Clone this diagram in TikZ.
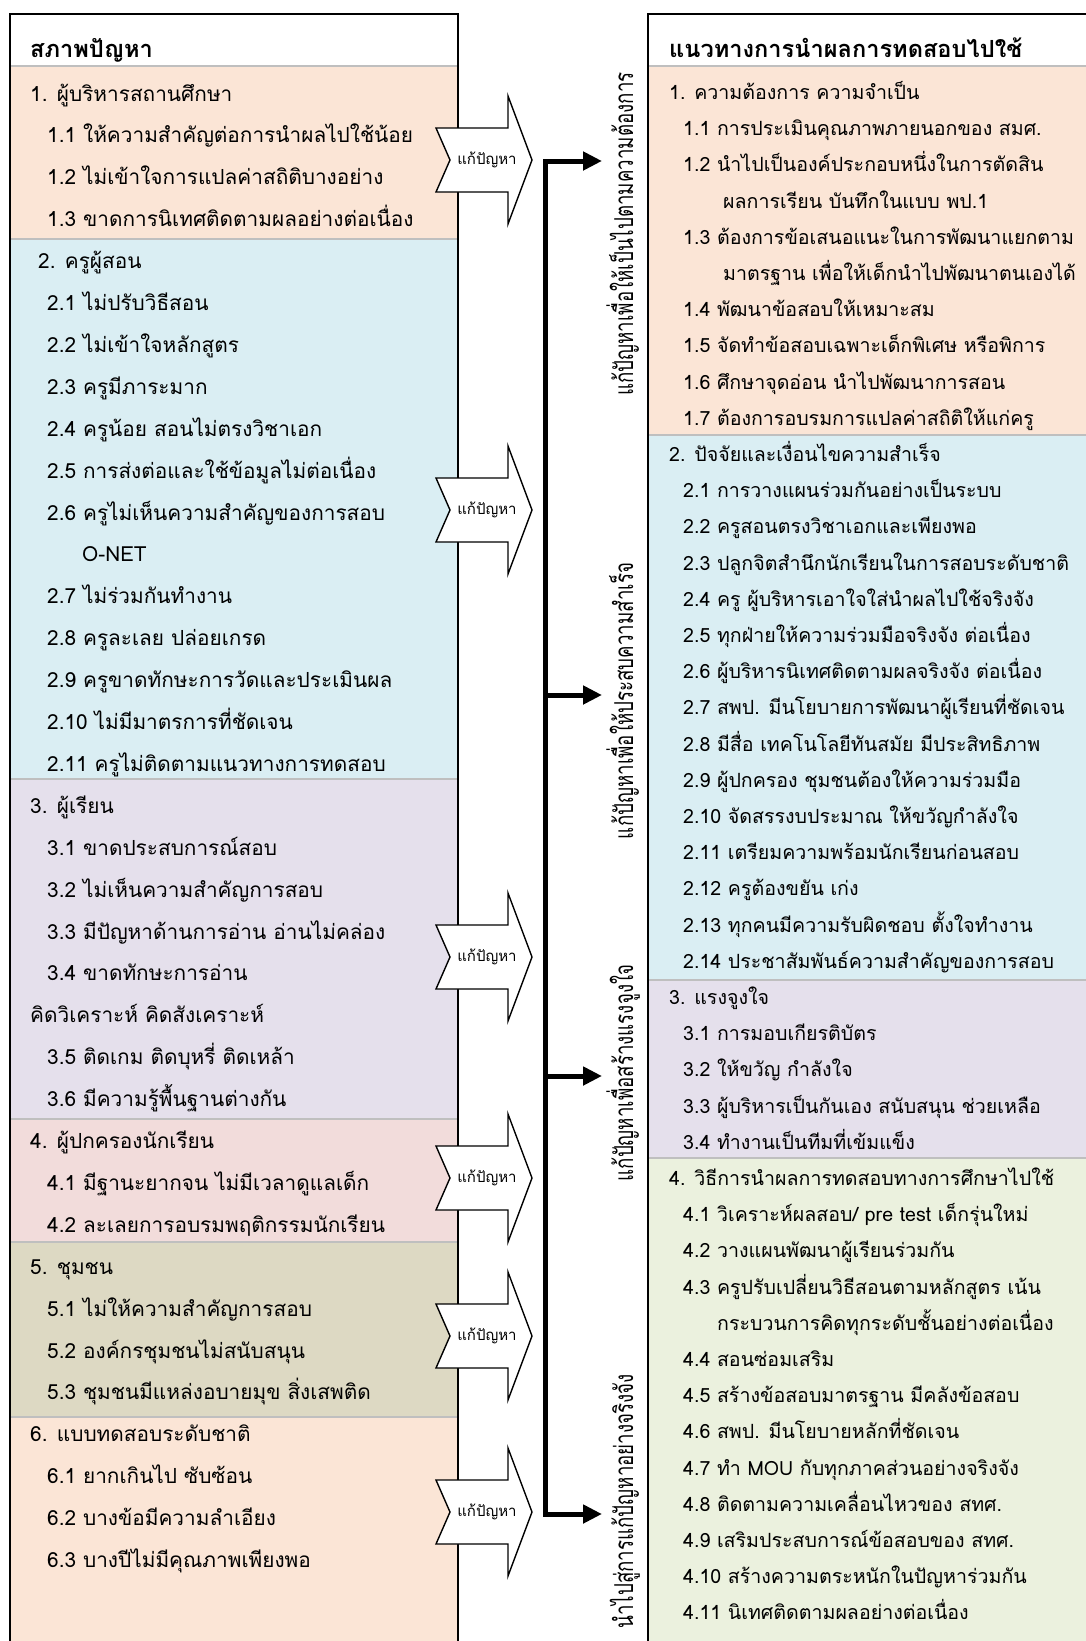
\documentclass[tikz,border=0pt]{standalone}
\usepackage{fontspec}
\setmainfont{Loma}[Script=Thai]
\newfontfamily\thaicond{Loma}[Script=Thai,FakeStretch=0.72]
\usepackage{tikz}
\usetikzlibrary{arrows.meta}

\definecolor{peach}{RGB}{251,229,214}
\definecolor{aqua}{RGB}{218,238,243}
\definecolor{lilac}{RGB}{229,224,236}
\definecolor{rose}{RGB}{242,220,219}
\definecolor{khaki}{RGB}{221,217,195}
\definecolor{sage}{RGB}{235,241,222}
\definecolor{sepgray}{RGB}{191,191,191}

\tikzset{
  probtxt/.style={anchor=base west, inner sep=0pt, font=\fontsize{20.8}{24}\selectfont},
  soltxt/.style={anchor=base west, inner sep=0pt, font=\fontsize{19.6}{23}\selectfont},
  colhead/.style={anchor=base west, inner sep=0pt, font=\fontsize{23.6}{28}\selectfont\bfseries},
  fixlabel/.style={inner sep=0pt, font=\fontsize{15}{18}\selectfont},
  goaltxt/.style={rotate=90, inner sep=0pt, font=\thaicond\fontsize{26}{30}\selectfont},
  fixshape/.style={draw=black, fill=white, line width=1.4, line join=miter},
  boxline/.style={line width=1.8},
  sepline/.style={draw=sepgray, line width=2},
  spine/.style={line width=5},
}

\begin{document}
\begin{tikzpicture}[x=1pt,y=1pt,yscale=-1,xscale=1]
    \useasboundingbox (0,0) rectangle (1086,1641);
    \clip (0,0) rectangle (1086,1641);

    %Left panel: section fills
    \fill[white] (10,14) rectangle (458,66);
    \fill[peach] (10,66) rectangle (458,239);
    \fill[aqua] (10,239) rectangle (458,779);
    \fill[lilac] (10,779) rectangle (458,1119);
    \fill[rose] (10,1119) rectangle (458,1242);
    \fill[khaki] (10,1242) rectangle (458,1417);
    \fill[peach] (10,1417) rectangle (458,1660);
    \foreach \y in {66,239,779,1119,1242,1417}
        \draw[sepline] (11,\y) -- (457,\y);
    \draw[boxline] (10,1660) -- (10,14) -- (458,14) -- (458,1660);

    %Right panel: section fills
    \fill[white] (648,14) rectangle (1100,66);
    \fill[peach] (648,66) rectangle (1100,435);
    \fill[aqua] (648,435) rectangle (1100,980);
    \fill[lilac] (648,980) rectangle (1100,1158);
    \fill[sage] (648,1158) rectangle (1100,1660);
    \foreach \y in {66,435,980,1158}
        \draw[sepline] (649,\y) -- (1100,\y);
    \draw[boxline] (648,1660) -- (648,14) -- (1100,14);

    % Text Node: left headings
    \node[colhead] (probhead) at (30,57) {สภาพปัญหา};
    \node[probtxt] (prob0) at (30,101) {1. ผู้บริหารสถานศึกษา};
    \node[probtxt] (prob4) at (38,{101+41.9*4}) {2. ครูผู้สอน};
    \node[probtxt] (prob11) at (82,{101+41.9*11}) {O-NET};
    \node[probtxt] (prob17) at (30,{101+41.9*17}) {3. ผู้เรียน};
    \node[probtxt] (prob22) at (30,{101+41.9*22}) {คิดวิเคราะห์ คิดสังเคราะห์};
    \node[probtxt] (prob25) at (30,{101+41.9*25}) {4. ผู้ปกครองนักเรียน};
    \node[probtxt] (prob28) at (30,{101+41.9*28}) {5. ชุมชน};
    \node[probtxt] (prob32) at (30,{101+41.9*32}) {6. แบบทดสอบระดับชาติ};
    % Text Node: left items
    \foreach \n/\txt in {1/1.1 ให้ความสำคัญต่อการนำผลไปใช้น้อย, 2/1.2 ไม่เข้าใจการแปลค่าสถิติบางอย่าง,
        3/1.3 ขาดการนิเทศติดตามผลอย่างต่อเนื่อง, 5/2.1 ไม่ปรับวิธีสอน, 6/2.2 ไม่เข้าใจหลักสูตร,
        7/2.3 ครูมีภาระมาก, 8/2.4 ครูน้อย สอนไม่ตรงวิชาเอก, 9/2.5 การส่งต่อและใช้ข้อมูลไม่ต่อเนื่อง,
        10/2.6 ครูไม่เห็นความสำคัญของการสอบ, 12/2.7 ไม่ร่วมกันทำงาน, 13/2.8 ครูละเลย ปล่อยเกรด,
        14/2.9 ครูขาดทักษะการวัดและประเมินผล, 15/2.10 ไม่มีมาตรการที่ชัดเจน,
        16/2.11 ครูไม่ติดตามแนวทางการทดสอบ, 18/3.1 ขาดประสบการณ์สอบ, 19/3.2 ไม่เห็นความสำคัญการสอบ,
        20/3.3 มีปัญหาด้านการอ่าน อ่านไม่คล่อง, 21/3.4 ขาดทักษะการอ่าน, 23/3.5 ติดเกม ติดบุหรี่ ติดเหล้า,
        24/3.6 มีความรู้พื้นฐานต่างกัน, 26/4.1 มีฐานะยากจน ไม่มีเวลาดูแลเด็ก,
        27/4.2 ละเลยการอบรมพฤติกรรมนักเรียน, 29/5.1 ไม่ให้ความสำคัญการสอบ,
        30/5.2 องค์กรชุมชนไม่สนับสนุน, 31/5.3 ชุมชนมีแหล่งอบายมุข สิ่งเสพติด,
        33/6.1 ยากเกินไป ซับซ้อน, 34/6.2 บางข้อมีความลำเอียง, 35/6.3 บางปีไม่มีคุณภาพเพียงพอ}
        \node[probtxt] (prob\n) at (47,{101+41.9*\n}) {\txt};

    % Text Node: right headings
    \node[colhead] (solhead) at (669,57) {แนวทางการนำผลการทดสอบไปใช้};
    \node[soltxt] (sol0) at (669,99.5) {1. ความต้องการ ความจำเป็น};
    \node[soltxt] (sol3) at (723,{99.5+36.2*3}) {ผลการเรียน บันทึกในแบบ พป.1};
    \node[soltxt] (sol5) at (723,{99.5+36.2*5}) {มาตรฐาน เพื่อให้เด็กนำไปพัฒนาตนเองได้};
    \node[soltxt] (sol10) at (669,{99.5+36.2*10}) {2. ปัจจัยและเงื่อนไขความสำเร็จ};
    \node[soltxt] (sol25) at (669,{99.5+36.2*25}) {3. แรงจูงใจ};
    \node[soltxt] (sol30) at (669,{99.5+36.2*30}) {4. วิธีการนำผลการทดสอบทางการศึกษาไปใช้};
    \node[soltxt] (sol31) at (683,{99.5+36.2*31}) {4.1 วิเคราะห์ผลสอบ/ pre test เด็กรุ่นใหม่};
    \node[soltxt] (sol34) at (717,{99.5+36.2*34}) {กระบวนการคิดทุกระดับชั้นอย่างต่อเนื่อง};
    % Text Node: right items
    \foreach \n/\txt in {1/1.1 การประเมินคุณภาพภายนอกของ สมศ., 2/1.2 นำไปเป็นองค์ประกอบหนึ่งในการตัดสิน,
        4/1.3 ต้องการข้อเสนอแนะในการพัฒนาแยกตาม, 6/1.4 พัฒนาข้อสอบให้เหมาะสม,
        7/1.5 จัดทำข้อสอบเฉพาะเด็กพิเศษ หรือพิการ, 8/1.6 ศึกษาจุดอ่อน นำไปพัฒนาการสอน,
        9/1.7 ต้องการอบรมการแปลค่าสถิติให้แก่ครู, 11/2.1 การวางแผนร่วมกันอย่างเป็นระบบ,
        12/2.2 ครูสอนตรงวิชาเอกและเพียงพอ, 13/2.3 ปลูกจิตสำนึกนักเรียนในการสอบระดับชาติ,
        14/2.4 ครู ผู้บริหารเอาใจใส่นำผลไปใช้จริงจัง, 15/2.5 ทุกฝ่ายให้ความร่วมมือจริงจัง ต่อเนื่อง,
        16/2.6 ผู้บริหารนิเทศติดตามผลจริงจัง ต่อเนื่อง, 17/2.7 สพป. มีนโยบายการพัฒนาผู้เรียนที่ชัดเจน,
        18/2.8 มีสื่อ เทคโนโลยีทันสมัย มีประสิทธิภาพ, 19/2.9 ผู้ปกครอง ชุมชนต้องให้ความร่วมมือ,
        20/2.10 จัดสรรงบประมาณ ให้ขวัญกำลังใจ, 21/2.11 เตรียมความพร้อมนักเรียนก่อนสอบ,
        22/2.12 ครูต้องขยัน เก่ง, 23/2.13 ทุกคนมีความรับผิดชอบ ตั้งใจทำงาน,
        24/2.14 ประชาสัมพันธ์ความสำคัญของการสอบ, 26/3.1 การมอบเกียรติบัตร, 27/3.2 ให้ขวัญ กำลังใจ,
        28/3.3 ผู้บริหารเป็นกันเอง สนับสนุน ช่วยเหลือ, 29/3.4 ทำงานเป็นทีมที่เข้มแข็ง,
        32/4.2 วางแผนพัฒนาผู้เรียนร่วมกัน, 33/4.3 ครูปรับเปลี่ยนวิธีสอนตามหลักสูตร เน้น,
        35/4.4 สอนซ่อมเสริม, 36/4.5 สร้างข้อสอบมาตรฐาน มีคลังข้อสอบ, 37/4.6 สพป. มีนโยบายหลักที่ชัดเจน,
        38/4.7 ทำ MOU กับทุกภาคส่วนอย่างจริงจัง, 39/4.8 ติดตามความเคลื่อนไหวของ สทศ.,
        40/4.9 เสริมประสบการณ์ข้อสอบของ สทศ., 41/4.10 สร้างความตระหนักในปัญหาร่วมกัน,
        42/4.11 นิเทศติดตามผลอย่างต่อเนื่อง}
        \node[soltxt] (sol\n) at (683,{99.5+36.2*\n}) {\txt};

    %Shape: notched block arrows
    \foreach \y [count=\k] in {160,510,957,1178,1336,1512}{
        \draw[fixshape] (436,\y-32) -- (508,\y-32) -- (508,\y-64) -- (532,\y) -- (508,\y+64)
            -- (508,\y+32) -- (436,\y+32) -- (450,\y) -- cycle;
        \node[fixlabel] (fix\k) at (487,\y) {แก้ปัญหา};
    }

    %Straight Lines: spine and branches
    \foreach \y [count=\k] in {161,695,1076,1514}{
        \coordinate (s\k) at (545,\y);
        \coordinate (t\k) at (602,\y);
    }
    \draw[spine, line cap=rect] (s1) -- (s4);
    \foreach \k in {1,...,4}
        \draw[spine, -{Triangle[length=19pt,width=18pt]}] (s\k) -- (t\k);

    % Text Node: vertical goals
    \node[goaltxt, anchor=base] (goal1) at (633,234) {แก้ปัญหาเพื่อให้เป็นไปตามความต้องการ};
    \node[goaltxt, anchor=base] (goal2) at (633,701) {แก้ปัญหาเพื่อให้ประสบความสำเร็จ};
    \node[goaltxt, anchor=base] (goal3) at (633,1073) {แก้ปัญหาเพื่อสร้างแรงจูงใจ};
    \node[goaltxt, anchor=base east] (goal4) at (633,1374) {นำไปสู่การแก้ปัญหาอย่างจริงจัง};
\end{tikzpicture}
\end{document}
